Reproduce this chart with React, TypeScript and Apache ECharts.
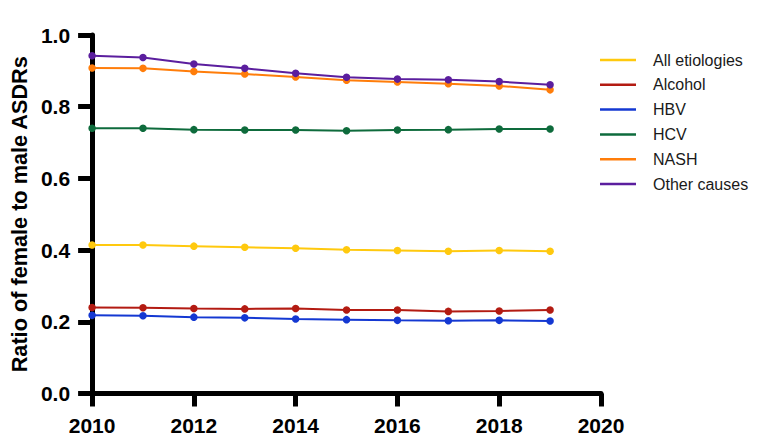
import React, { useEffect, useRef } from "react";
import * as echarts from "echarts";

const years = [2010, 2011, 2012, 2013, 2014, 2015, 2016, 2017, 2018, 2019];
const seriesNames = ["All etiologies", "Alcohol", "HBV", "HCV", "NASH", "Other causes"];
const allEtiologies = [0.414, 0.414, 0.411, 0.408, 0.405, 0.401, 0.399, 0.397, 0.399, 0.397];
const alcohol = [0.240, 0.239, 0.237, 0.236, 0.237, 0.233, 0.233, 0.229, 0.230, 0.233];
const hbv = [0.218, 0.217, 0.213, 0.211, 0.208, 0.206, 0.204, 0.203, 0.204, 0.202];
const hcv = [0.740, 0.740, 0.736, 0.735, 0.735, 0.733, 0.735, 0.736, 0.738, 0.738];
const nash = [0.908, 0.907, 0.898, 0.891, 0.883, 0.874, 0.869, 0.864, 0.858, 0.847];
const otherCauses = [0.942, 0.937, 0.919, 0.907, 0.893, 0.882, 0.877, 0.875, 0.870, 0.861];
const colors = ["#FFC90E", "#B31B12", "#1438D2", "#0E6B3C", "#FF7D0A", "#5B1E9E"];

const FONT = "'Liberation Sans', Arial, Helvetica, sans-serif";

export default function App() {
  const ref = useRef<HTMLDivElement>(null);
  useEffect(() => {
    if (!ref.current) return;
    const chart = echarts.init(ref.current, null, { renderer: "svg" });
    const values = [allEtiologies, alcohol, hbv, hcv, nash, otherCauses];
    chart.setOption({
      animation: false,
      backgroundColor: "#ffffff",
      grid: { left: 90, right: 157, top: 35, bottom: 48.5, containLabel: false },
      legend: {
        orient: "vertical",
        left: 600,
        top: 50,
        padding: 0,
        itemWidth: 36,
        itemHeight: 2.5,
        itemGap: 4.8,
        icon: "rect",
        data: seriesNames.map((n) => ({ name: n, icon: "rect" })),
        textStyle: {
          fontFamily: FONT,
          fontSize: 16,
          color: "#1a1a1a",
          lineHeight: 20,
          padding: [0, 0, 0, 12],
        },
      },
      xAxis: {
        type: "value",
        min: 2010,
        max: 2020,
        interval: 2,
        splitLine: { show: false },
        axisLine: { show: true, lineStyle: { color: "#000", width: 5 } },
        axisTick: { show: true, length: 13, lineStyle: { color: "#000", width: 5 } },
        axisLabel: {
          margin: 21,
          color: "#000",
          fontFamily: FONT,
          fontSize: 21,
          fontWeight: "bold",
          formatter: (v: number) => String(v),
        },
      },
      yAxis: {
        type: "value",
        min: 0,
        max: 1,
        interval: 0.2,
        name: "Ratio of female to male ASDRs",
        nameLocation: "middle",
        nameGap: 61,
        nameTextStyle: {
          fontFamily: FONT,
          fontSize: 21.7,
          fontWeight: "bold",
          color: "#000",
        },
        splitLine: { show: false },
        axisLine: { show: true, lineStyle: { color: "#000", width: 5 } },
        axisTick: { show: true, length: 14, lineStyle: { color: "#000", width: 5 } },
        axisLabel: {
          margin: 22,
          color: "#000",
          fontFamily: FONT,
          fontSize: 21,
          fontWeight: "bold",
          formatter: (v: number) => v.toFixed(1),
        },
      },
      series: seriesNames.map((name, i) => ({
        name,
        type: "line",
        data: years.map((y, j) => [y, values[i][j]]),
        symbol: "circle",
        symbolSize: 7.5,
        showSymbol: true,
        lineStyle: { width: 2, color: colors[i] },
        itemStyle: { color: colors[i] },
        emphasis: { disabled: true },
      })),
    });
    return () => chart.dispose();
  }, []);
  return <div ref={ref} style={{ width: 758, height: 442, position: "absolute", left: 0, top: 0 }} />;
}
